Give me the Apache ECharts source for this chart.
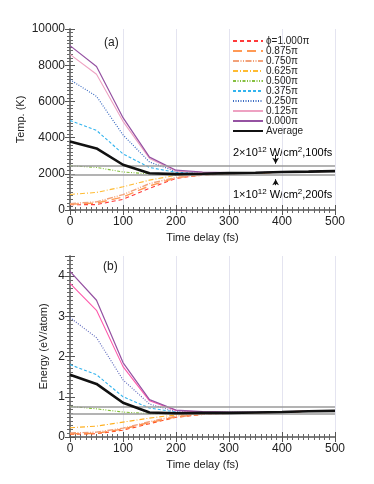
<!DOCTYPE html>
<html><head><meta charset="utf-8">
<script src="https://cdn.jsdelivr.net/npm/echarts@6/dist/echarts.min.js"></script>
<style>html,body{margin:0;padding:0;background:#fff}#c{width:374px;height:484px}</style>
</head><body><div id="c"></div>
<script>
// ---------- data ----------
var timeDelay = [0, 50, 100, 150, 200, 250, 300, 350, 400, 450, 500];
var phaseNames = ['ϕ=1.000π', '0.875π', '0.750π', '0.625π', '0.500π', '0.375π', '0.250π', '0.125π', '0.000π', 'Average'];

var tempPhi1000 = [290, 300, 590, 1200, 1750, 1930, 2000, 2050, 2090, 2120, 2150];
var tempPhi0875 = [320, 380, 720, 1330, 1780, 1940, 2010, 2050, 2090, 2120, 2150];
var tempPhi0750 = [350, 450, 850, 1460, 1800, 1950, 2010, 2050, 2090, 2120, 2150];
var tempPhi0625 = [860, 970, 1280, 1650, 1920, 1990, 2020, 2050, 2090, 2120, 2150];
var tempPhi0500 = [2450, 2350, 2100, 2000, 1980, 1990, 2020, 2050, 2090, 2120, 2150];
var tempPhi0375 = [4950, 4400, 3100, 2350, 2080, 2040, 2040, 2060, 2100, 2120, 2150];
var tempPhi0250 = [7200, 6280, 4150, 2650, 2130, 2060, 2040, 2060, 2100, 2120, 2150];
var tempPhi0125 = [8600, 7500, 4900, 2850, 2150, 2080, 2050, 2060, 2100, 2120, 2150];
var tempPhi0000 = [9080, 7930, 5100, 2920, 2200, 2100, 2060, 2070, 2100, 2120, 2150];
var tempAverage = [3780, 3400, 2500, 2030, 1980, 2000, 2040, 2060, 2100, 2120, 2150];

var engPhi1000 = [0.07, 0.08, 0.17, 0.33, 0.49, 0.56, 0.59, 0.60, 0.62, 0.64, 0.65];
var engPhi0875 = [0.08, 0.09, 0.20, 0.36, 0.50, 0.57, 0.59, 0.60, 0.62, 0.64, 0.65];
var engPhi0750 = [0.10, 0.12, 0.22, 0.38, 0.52, 0.57, 0.59, 0.60, 0.62, 0.64, 0.65];
var engPhi0625 = [0.23, 0.27, 0.37, 0.47, 0.55, 0.58, 0.60, 0.60, 0.62, 0.64, 0.65];
var engPhi0500 = [0.76, 0.70, 0.62, 0.58, 0.58, 0.59, 0.60, 0.61, 0.62, 0.64, 0.65];
var engPhi0375 = [1.80, 1.55, 1.00, 0.72, 0.62, 0.60, 0.60, 0.61, 0.62, 0.64, 0.65];
var engPhi0250 = [2.97, 2.47, 1.42, 0.82, 0.63, 0.61, 0.61, 0.61, 0.62, 0.64, 0.65];
var engPhi0125 = [3.82, 3.15, 1.75, 0.90, 0.66, 0.62, 0.61, 0.61, 0.62, 0.64, 0.65];
var engPhi0000 = [4.12, 3.40, 1.85, 0.93, 0.67, 0.63, 0.62, 0.62, 0.63, 0.64, 0.65];
var engAverage = [1.55, 1.32, 0.85, 0.61, 0.59, 0.60, 0.60, 0.61, 0.62, 0.64, 0.65];

var tempRefLevels = [2450, 1950];
var engRefLevels = [0.76, 0.57];
// arrows: [x, fromY, toY]
var tempArrowDown = [388, 3040, 2560];
var tempArrowUp = [388, 1370, 1700];

// ---------- styles ----------
var FONT = 'Liberation Sans, Arial, Helvetica, sans-serif';
var styles = [
  {c: '#ff3a3a', t: [4, 3], w: 1.1},
  {c: '#ff9a55', t: [9, 5], w: 1.4},
  {c: '#f2a27a', t: [6, 1.5, 1, 1.5, 1, 1.5], w: 1.4},
  {c: '#ffbb33', t: [5, 2, 1, 2], w: 1.1},
  {c: '#86c040', t: [3, 1.5, 1, 1.5, 1, 1.5], w: 1.1},
  {c: '#33b4ee', t: [3, 2], w: 1.1},
  {c: '#3c6cc2', t: [1, 1.5], w: 1.2},
  {c: '#eea2c2', t: 'solid', w: 1.1},
  {c: '#9552a2', t: 'solid', w: 1.2},
  {c: '#111111', t: 'solid', w: 2.6}
];
var engColors = ['#ff4a20', '#ff8a40', '#f2a07a', '#ffb020', '#80c030', '#33b4ee', '#6670c0', '#ff5aac', '#9552a2', '#111111'];

var tempSeries = [tempPhi1000, tempPhi0875, tempPhi0750, tempPhi0625, tempPhi0500, tempPhi0375, tempPhi0250, tempPhi0125, tempPhi0000, tempAverage];
var engSeries = [engPhi1000, engPhi0875, engPhi0750, engPhi0625, engPhi0500, engPhi0375, engPhi0250, engPhi0125, engPhi0000, engAverage];

function pairs(ys) { return timeDelay.map(function (x, i) { return [x, ys[i]]; }); }

var series = [];
tempSeries.forEach(function (ys, i) {
  series.push({
    name: phaseNames[i], type: 'line', xAxisIndex: 0, yAxisIndex: 0,
    data: pairs(ys), symbol: 'none', showSymbol: false, silent: true, z: i === 9 ? 5 : 3,
    lineStyle: {color: styles[i].c, type: styles[i].t, width: styles[i].w},
    itemStyle: {color: styles[i].c}
  });
});
engSeries.forEach(function (ys, i) {
  series.push({
    name: phaseNames[i], type: 'line', xAxisIndex: 2, yAxisIndex: 2,
    data: pairs(ys), symbol: 'none', showSymbol: false, silent: true, z: i === 9 ? 5 : 3,
    lineStyle: {color: engColors[i], type: styles[i].t, width: styles[i].w},
    itemStyle: {color: engColors[i]}
  });
});
series.push({
  type: 'line', xAxisIndex: 0, yAxisIndex: 0, data: [], silent: true, z: 2,
  markLine: {
    silent: true, symbol: 'none', animation: false, label: {show: false},
    lineStyle: {color: '#9a9a9a', type: 'solid', width: 1.5},
    data: tempRefLevels.map(function (v) { return {yAxis: v}; })
  }
});
series.push({
  type: 'line', xAxisIndex: 0, yAxisIndex: 0, data: [], silent: true, z: 6,
  markLine: {
    silent: true, symbol: ['none', 'arrow'], symbolSize: [5, 6], animation: false, label: {show: false},
    lineStyle: {color: '#111', type: 'solid', width: 1},
    data: [
      [{coord: [tempArrowDown[0], tempArrowDown[1]]}, {coord: [tempArrowDown[0], tempArrowDown[2]]}],
      [{coord: [tempArrowUp[0], tempArrowUp[1]]}, {coord: [tempArrowUp[0], tempArrowUp[2]]}]
    ]
  }
});
series.push({
  type: 'line', xAxisIndex: 2, yAxisIndex: 2, data: [], silent: true, z: 2,
  markLine: {
    silent: true, symbol: 'none', animation: false, label: {show: false},
    lineStyle: {color: '#9a9a9a', type: 'solid', width: 1.5},
    data: engRefLevels.map(function (v) { return {yAxis: v}; })
  }
});

var frame = {show: true, lineStyle: {color: '#777', width: 1.5}};
var lbl = {color: '#222', fontSize: 12, fontFamily: FONT, formatter: function (v) { return String(v); }};
function xMain(grid) {
  return {
    type: 'value', gridIndex: grid, min: 0, max: 500, interval: 100,
    name: 'Time delay (fs)', nameLocation: 'middle', nameGap: 22, nameMoveOverlap: false,
    nameTextStyle: {color: '#222', fontSize: 11, fontFamily: FONT},
    axisLine: frame,
    axisTick: {show: true, inside: true, length: 5, lineStyle: {color: '#555'}},
    minorTick: {show: true, splitNumber: 10, length: 3, lineStyle: {color: '#666'}},
    axisLabel: Object.assign({margin: 6}, lbl),
    splitLine: {show: true, lineStyle: {color: '#e4e4f0', width: 1}}
  };
}
function xMirror(grid) {
  return {
    type: 'value', gridIndex: grid, position: 'top', min: 0, max: 500, interval: 100,
    axisLine: frame,
    axisTick: {show: true, inside: true, length: 5, lineStyle: {color: '#555'}},
    minorTick: {show: true, splitNumber: 10, length: 3, lineStyle: {color: '#666'}},
    axisLabel: {show: false}, splitLine: {show: false}
  };
}
function yMain(grid, max, interval, name, gap) {
  return {
    type: 'value', gridIndex: grid, min: 0, max: max, interval: interval,
    name: name, nameLocation: 'middle', nameGap: gap, nameMoveOverlap: false,
    nameTextStyle: {color: '#222', fontSize: 11, fontFamily: FONT},
    axisLine: frame,
    axisTick: {show: true, inside: true, length: 5, lineStyle: {color: '#555'}},
    minorTick: {show: true, splitNumber: 10, length: 3, lineStyle: {color: '#666'}},
    axisLabel: Object.assign({margin: 5, showMaxLabel: max === 10000}, lbl),
    splitLine: {show: false}
  };
}
function yMirror(grid, max, interval) {
  return {
    type: 'value', gridIndex: grid, position: 'right', min: 0, max: max, interval: interval,
    axisLine: frame,
    axisTick: {show: true, inside: true, length: 5, lineStyle: {color: '#555'}},
    minorTick: {show: true, splitNumber: 10, length: 3, lineStyle: {color: '#666'}},
    axisLabel: {show: false}, splitLine: {show: false}
  };
}

var supRich = {
  n: {fontSize: 11, fontFamily: FONT, color: '#222', lineHeight: 14},
  s: {fontSize: 8, fontFamily: FONT, color: '#222', verticalAlign: 'top', lineHeight: 14, padding: [0, 0, 8, 0]}
};

var option = {
  animation: false,
  backgroundColor: '#fff',
  grid: [
    {left: 70, right: 39, top: 29, height: 181},
    {left: 70, right: 39, top: 256, height: 181}
  ],
  xAxis: [xMain(0), xMirror(0), xMain(1), xMirror(1)],
  yAxis: [yMain(0, 10000, 2000, 'Temp. (K)', 44), yMirror(0, 10000, 2000), yMain(1, 4.5, 1, 'Energy (eV/atom)', 21), yMirror(1, 4.5, 1)],
  legend: {
    orient: 'vertical', left: 232, top: 36, padding: 0,
    itemWidth: 30, itemHeight: 7, itemGap: 0,
    data: phaseNames,
    itemStyle: {opacity: 0, borderWidth: 0},
    textStyle: {color: '#222', fontSize: 10, lineHeight: 7, height: 7, fontFamily: FONT, padding: [0, 0, 0, -2]},
    selectedMode: false
  },
  graphic: [
    {type: 'text', left: 104, top: 37, style: {text: '(a)', fontSize: 12, fontFamily: FONT, fill: '#222'}},
    {type: 'text', left: 103, top: 261, style: {text: '(b)', fontSize: 12, fontFamily: FONT, fill: '#222'}},
    {type: 'text', left: 233, top: 146, style: {text: '{n|2×10}{s|12}{n| W/cm}{s|2}{n|,100fs}', rich: supRich}},
    {type: 'text', left: 233, top: 188, style: {text: '{n|1×10}{s|12}{n| W/cm}{s|2}{n|,200fs}', rich: supRich}}
  ],
  series: series
};
var chart = echarts.init(document.getElementById('c'), null, {renderer: 'canvas'});
chart.setOption(option);
</script></body></html>
